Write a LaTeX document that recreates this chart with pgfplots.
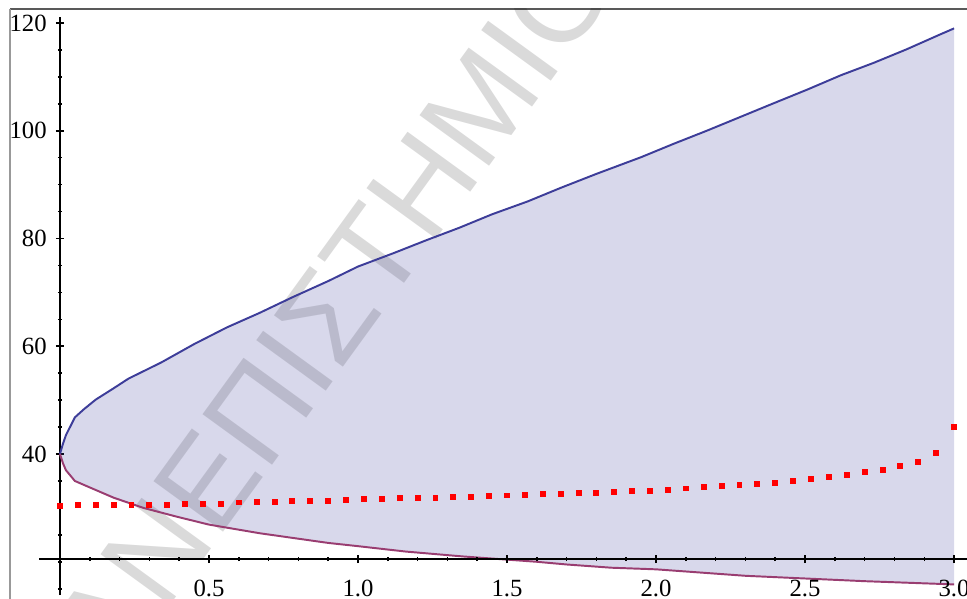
\documentclass[border=0pt]{standalone}
\usepackage{pgfplots}
\pgfplotsset{compat=1.18}
\usepackage{pgfplotstable}
\usepackage{fontspec}
\setmainfont{Liberation Serif}
\newfontfamily\wmfont{Liberation Sans}
\definecolor{fillc}{RGB}{61,61,153}
\definecolor{upc}{RGB}{61,61,153}
\definecolor{loc}{RGB}{153,61,113}

\pgfplotstableread{
x y
0.00 40.0
0.01 41.9
0.02 43.5
0.05 46.8
0.08 48.3
0.12 50.1
0.18 52.2
0.23 54.0
0.34 57.0
0.45 60.4
0.56 63.5
0.67 66.2
0.78 69.1
0.90 72.1
1.00 74.8
1.12 77.3
1.23 79.7
1.34 82.0
1.45 84.5
1.57 86.9
1.68 89.4
1.80 92.0
1.95 95.1
2.06 97.6
2.17 100.0
2.28 102.5
2.39 105.0
2.51 107.7
2.62 110.3
2.73 112.6
2.84 115.1
2.95 117.8
3.00 119.0
}\uppercurve

\pgfplotstableread{
x y
0.00 40.0
0.01 38.3
0.02 37.0
0.05 35.0
0.10 33.8
0.18 31.9
0.28 30.0
0.39 28.4
0.50 26.9
0.67 25.3
0.90 23.5
1.00 22.9
1.16 21.9
1.35 21.0
1.50 20.4
1.60 20.0
1.70 19.5
1.85 18.9
2.00 18.6
2.15 18.0
2.30 17.4
2.50 16.9
2.70 16.4
2.85 16.1
3.00 15.8
}\lowercurve

\pgfplotstableread{
x y
0.00 30.4
0.06 30.5
0.12 30.5
0.18 30.5
0.24 30.6
0.30 30.6
0.36 30.6
0.42 30.7
0.48 30.7
0.54 30.8
0.60 31.0
0.66 31.1
0.72 31.1
0.78 31.2
0.84 31.2
0.90 31.3
0.96 31.4
1.02 31.6
1.08 31.7
1.14 31.8
1.20 31.8
1.26 31.9
1.32 32.0
1.38 32.1
1.44 32.2
1.50 32.3
1.56 32.4
1.62 32.5
1.68 32.6
1.74 32.7
1.80 32.8
1.86 32.9
1.92 33.1
1.98 33.2
2.04 33.4
2.10 33.6
2.16 33.8
2.22 34.0
2.28 34.2
2.34 34.4
2.40 34.7
2.46 35.0
2.52 35.3
2.58 35.7
2.64 36.1
2.70 36.6
2.76 37.1
2.82 37.7
2.88 38.6
2.94 40.2
3.00 45.1
}\reddots

\begin{document}
\begin{tikzpicture}[x=0.135mm,y=0.135mm]
\useasboundingbox (0,0) rectangle (967,599);
% frame of the screenshot
\draw[line width=0.18mm, black!65] (10,590) -- (967,590);
\draw[line width=0.18mm, black!40] (10,0) -- (10,590);
% watermark
\begin{scope}
\clip (10,0) rectangle (967,590);
\node[rotate=54, anchor=base west, inner sep=0pt, text=black, text opacity=0.145,
      font=\wmfont\fontsize{48}{50}\selectfont] at (217,58) {\llap{ΠΑΝ}ΕΠΙΣΤΗΜΙΟ};
\end{scope}

\pgfplotsset{common/.style={
  at={(5.2785mm,0.513mm)}, anchor=south west, scale only axis,
  width=125.27mm, height=78.04mm,
  xmin=-0.07, xmax=3.0436,
  tick align=inside,
  major tick length=3.1pt, minor tick length=1.6pt,
  every tick/.style={black, line width=0.6pt},
  tick label style={font=\fontsize{9.5}{11}\selectfont},
  /pgf/number format/assume math mode=true,
}, noarrows/.style={
  axis line style={-, line width=0.8pt, black},
  every inner x axis line/.append style={-},
  every inner y axis line/.append style={-},
}}

\begin{axis}[common,
  ymin=13.8, ymax=121.1,
  axis x line=none, axis y line=middle, noarrows,
  ytick={40,60,80,100,120},
  minor ytick={15,20,25,30,35,45,50,55,65,70,75,85,90,95,105,110,115},
  yticklabel style={xshift=0mm},
]
\addplot[draw=none, fill=fillc, fill opacity=0.2] table[x=x,y=y] {\uppercurve}
  -- (axis cs:3.00,15.8) -- (axis cs:2.85,16.1) -- (axis cs:2.70,16.4)
  -- (axis cs:2.50,16.9) -- (axis cs:2.30,17.4) -- (axis cs:2.15,18.0)
  -- (axis cs:2.00,18.6) -- (axis cs:1.85,18.9) -- (axis cs:1.70,19.5)
  -- (axis cs:1.60,20.0) -- (axis cs:1.50,20.4) -- (axis cs:1.35,21.0)
  -- (axis cs:1.16,21.9) -- (axis cs:1.00,22.9) -- (axis cs:0.90,23.5)
  -- (axis cs:0.67,25.3) -- (axis cs:0.50,26.9) -- (axis cs:0.39,28.4)
  -- (axis cs:0.28,30.0) -- (axis cs:0.18,31.9) -- (axis cs:0.10,33.8)
  -- (axis cs:0.05,35.0) -- (axis cs:0.02,37.0) -- (axis cs:0.01,38.3)
  -- cycle;
\addplot[upc, line width=0.75pt] table[x=x,y=y] {\uppercurve};
\addplot[loc, line width=0.75pt] table[x=x,y=y] {\lowercurve};
\addplot[only marks, mark=square*, mark size=0.95pt, red,
  mark options={line width=0pt, fill=red, draw=red}] table[x=x,y=y] {\reddots};
\end{axis}

\begin{axis}[common,
  ymin=-6.7, ymax=100.6,
  axis x line=middle, axis y line=none, noarrows,
  xtick={0.5,1.0,1.5,2.0,2.5,3.0},
  xticklabels={0.5,1.0,1.5,2.0,2.5,3.0},
  minor xtick={0.1,0.2,0.3,0.4,0.6,0.7,0.8,0.9,1.1,1.2,1.3,1.4,1.6,1.7,1.8,1.9,2.1,2.2,2.3,2.4,2.6,2.7,2.8,2.9},
  xticklabel style={yshift=-1.1mm},
]
\end{axis}
\end{tikzpicture}
\end{document}
